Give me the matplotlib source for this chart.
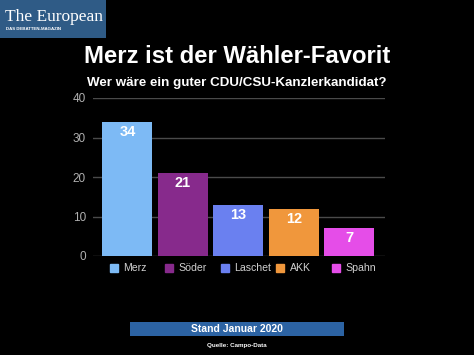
import matplotlib
matplotlib.use('Agg')
import matplotlib.pyplot as plt
from matplotlib.patches import Rectangle
import matplotlib.transforms as mtransforms

# Umfrage-Daten
kandidaten = ['Merz', 'Söder', 'Laschet', 'AKK', 'Spahn']
werte = [34, 21, 13, 12, 7]
farben = ['#7dbaf5', '#872a8c', '#6a80f0', '#f0973c', '#e54de8']
y_ticks = [0, 10, 20, 30, 40]

titel = 'Merz ist der Wähler-Favorit'
untertitel = 'Wer wäre ein guter CDU/CSU-Kanzlerkandidat?'
stand = 'Stand Januar 2020'
quelle = 'Quelle: Campo-Data'

W, H = 474, 355
plt.rcParams['font.family'] = ['Liberation Sans', 'DejaVu Sans']

fig = plt.figure(figsize=(W / 100, H / 100), dpi=100, facecolor='black')

# Logo oben links
fig.patches.append(Rectangle((0, 1 - 38 / H), 106 / W, 38 / H, transform=fig.transFigure,
                             facecolor='#2f5b86', edgecolor='none'))
fig.text(5 / W, 1 - 21 / H, 'The European', color='white', fontsize=12.5,
         family=['Liberation Serif'], va='baseline', ha='left')
fig.text(6 / W, 1 - 30 / H, 'DAS DEBATTEN-MAGAZIN', color='white', fontsize=3.2,
         fontweight='bold', va='baseline', ha='left')

# Titel
fig.text(237 / W, 1 - 63 / H, titel, color='white', fontsize=17.2, fontweight='bold',
         ha='center', va='baseline')
fig.text(237 / W, 1 - 86 / H, untertitel, color='white', fontsize=9.6, fontweight='bold',
         ha='center', va='baseline')

# Diagramm
ax = fig.add_axes([93 / W, 1 - 256 / H, 292 / W, 158 / H])
ax.set_facecolor('black')
x = list(range(len(kandidaten)))
ax.bar(x, werte, width=0.9, color=farben, zorder=2)
ax.set_xlim(-0.62, 4.64)
ax.set_ylim(0, 40)
ax.set_yticks(y_ticks)
ax.set_xticks([])
ax.yaxis.grid(True, color='#4a4a4a', linewidth=1)
ax.set_axisbelow(True)
for s in ax.spines.values():
    s.set_visible(False)
ax.tick_params(axis='y', length=0, pad=5, labelcolor='#b0b0b0', labelsize=8.5)

for xi, v in zip(x, werte):
    ax.annotate(str(v), (xi, v), xytext=(0, -10), textcoords='offset pixels',
                ha='center', va='center', color='white', fontsize=10.5, fontweight='bold')

# Legende unter den Balken
trans = mtransforms.blended_transform_factory(ax.transData, ax.transAxes)
for xi, name, c in zip(x, kandidaten, farben):
    ax.plot([xi - 0.25], [-0.076], marker='s', markersize=5.8, color=c,
            transform=trans, clip_on=False, linestyle='none')
    ax.annotate(name, (xi - 0.25, -0.076), xycoords=trans, xytext=(9.5, 0),
                textcoords='offset pixels', ha='left', va='center',
                color='#d0d0d0', fontsize=7.6)

# Stand-Balken und Quelle
fig.patches.append(Rectangle((130 / W, 1 - 336 / H), 214 / W, 14 / H, transform=fig.transFigure,
                             facecolor='#2c63a3', edgecolor='none'))
fig.text(237 / W, 1 - 329 / H, stand, color='white', fontsize=7.5, fontweight='bold',
         ha='center', va='center')
fig.text(237 / W, 1 - 345 / H, quelle, color='white', fontsize=4.5, fontweight='bold',
         ha='center', va='center')

fig.savefig('out.png', dpi=100, facecolor='black')
